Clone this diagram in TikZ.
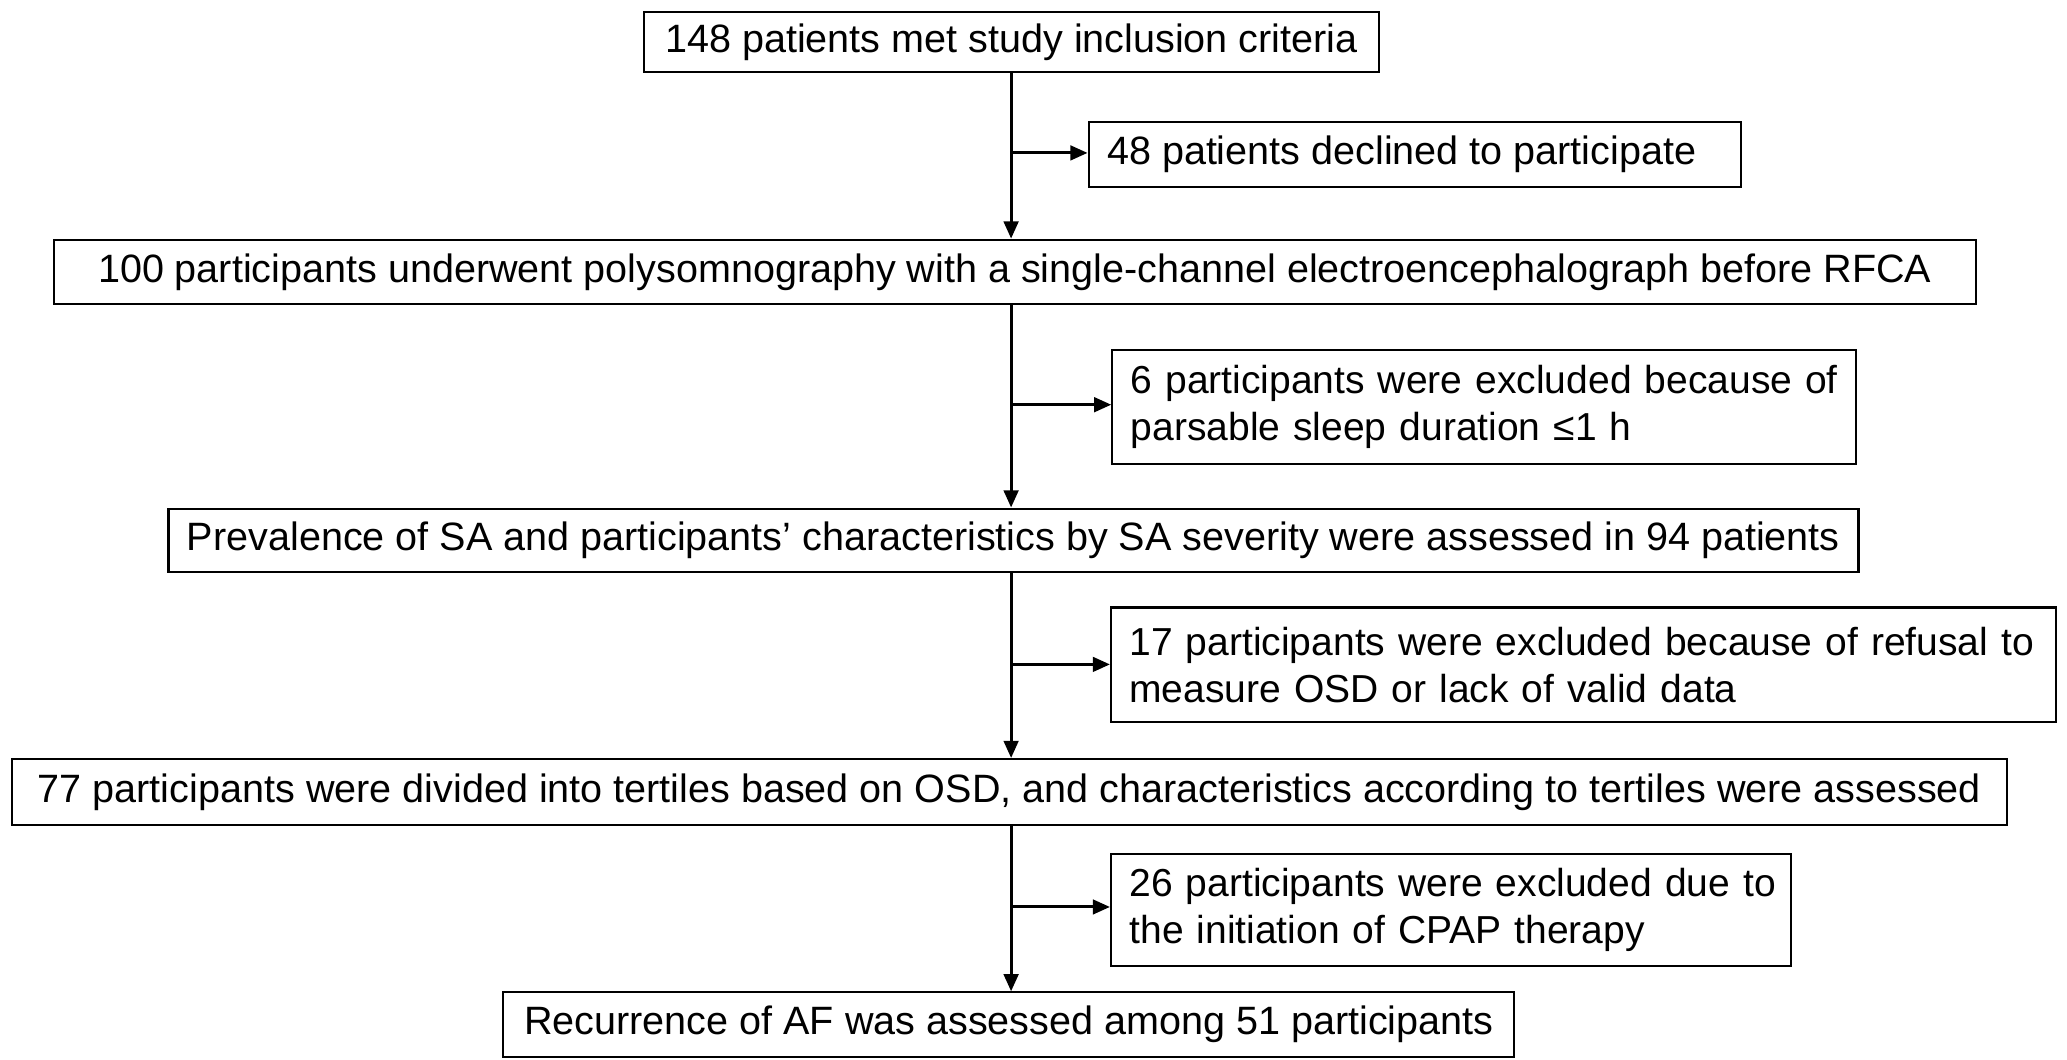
\documentclass[tikz,border=0pt]{standalone}
\usepackage{fontspec}
\setmainfont{Liberation Sans}
\usetikzlibrary{arrows.meta}
\begin{document}
\begin{tikzpicture}[x=1pt,y=-1pt,
  box/.style={draw=black, line width=1.6pt, inner sep=0pt, anchor=north west, align=center,
    font=\fontsize{30}{36}\selectfont},
  sidebox/.style={box, align=left, inner xsep=14pt, font=\fontsize{29.6}{36}\selectfont},
  arr/.style={line width=2.3pt, -{Triangle[length=13pt,width=11pt]}}]
\useasboundingbox (0,0) rectangle (1568,804);
\coordinate (spine) at (767,0);
\node[box, minimum width=557pt, minimum height=46pt] (b1) at (488,8) {148 patients met study inclusion criteria};
\node[box, minimum width=495pt, minimum height=49pt] (b2) at (825,92) {48 patients declined to participate\hspace*{20pt}};
\node[box, minimum width=1458pt, minimum height=49pt] (b3) at (40,181) {100 participants underwent polysomnography with a single-channel electroencephalograph before RFCA};
\node[sidebox, text width=536pt, minimum height=86pt] (b4) at (843,265) {\mbox{6 participants were excluded because of}\\\mbox{parsable sleep duration ≤1 h}};
\node[box, minimum width=1282pt, minimum height=48pt] (b5) at (127,385) {Prevalence of SA and participants’ characteristics by SA severity were assessed in 94 patients};
\node[sidebox, text width=689pt, minimum height=87pt] (b6) at (842,460) {\mbox{17 participants were excluded because of refusal to}\\\mbox{measure OSD or lack of valid data}};
\node[box, minimum width=1514pt, minimum height=50pt] (b7) at (8,575) {77 participants were divided into tertiles based on OSD, and characteristics according to tertiles were assessed};
\node[sidebox, text width=488pt, minimum height=85pt] (b8) at (842,647) {\mbox{26 participants were excluded due to}\\\mbox{the initiation of CPAP therapy}};
\node[box, minimum width=767pt, minimum height=49pt] (b9) at (381,752) {Recurrence of AF was assessed among 51 participants};
\coordinate (j1) at (767,116);
\coordinate (j2) at (767,307);
\coordinate (j3) at (767,504);
\coordinate (j4) at (767,688);
\draw[arr] (b1.south -| spine) -- (b3.north -| spine);
\draw[arr] (b3.south -| spine) -- (b5.north -| spine);
\draw[arr] (b5.south -| spine) -- (b7.north -| spine);
\draw[arr] (b7.south -| spine) -- (b9.north -| spine);
\draw[arr] (j1) -- (j1 -| b2.west);
\draw[arr] (j2) -- (j2 -| b4.west);
\draw[arr] (j3) -- (j3 -| b6.west);
\draw[arr] (j4) -- (j4 -| b8.west);
\end{tikzpicture}
\end{document}
